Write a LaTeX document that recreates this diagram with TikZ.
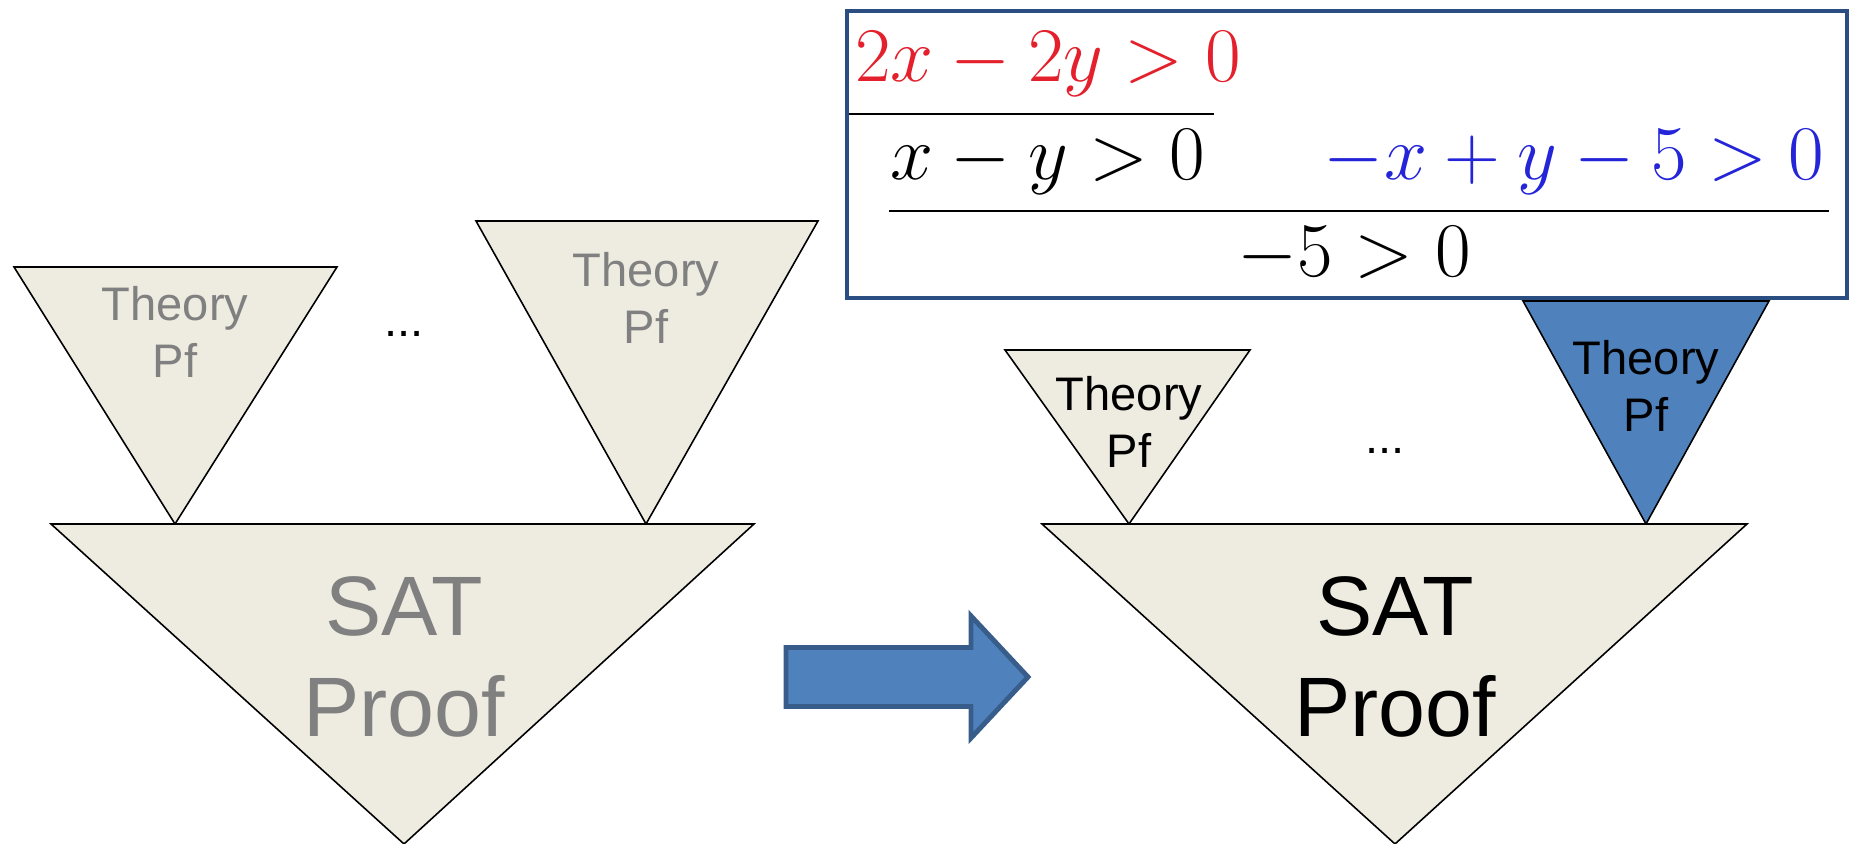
\RequirePackage{fix-cm}
\documentclass[tikz,border=0pt]{standalone}
\usepackage{fontspec}
\newfontfamily\slidefont{Liberation Sans}
\usetikzlibrary{calc}
\usepackage{xcolor}
\definecolor{paper}{HTML}{EEECE1}
\definecolor{thblue}{HTML}{4F81BD}
\definecolor{thedge}{HTML}{385D8A}
\definecolor{boxedge}{HTML}{2A4E82}
\definecolor{greytxt}{HTML}{808080}
\definecolor{eqred}{HTML}{E3202B}
\definecolor{eqblue}{HTML}{2424D8}

\begin{document}
\begin{tikzpicture}[
    tri/.style={draw, line width=0.45pt, fill=paper},
    thylbl/.style={font=\slidefont\fontsize{13.4}{16}\selectfont, align=center, inner sep=0pt},
    satlbl/.style={font=\slidefont\fontsize{24}{29}\selectfont, align=center, inner sep=0pt},
    eqn/.style={font=\fontsize{22}{26}\selectfont, anchor=base, inner sep=0pt},
    infline/.style={line width=0.6pt},
    bigarrow/.style={draw=thedge, line width=1.4pt, fill=thblue},
    eqbox/.style={draw=boxedge, line width=1.2pt, fill=white}
]

\useasboundingbox (0, 0) rectangle (18.53, 8.44);

\draw[tri] (0.14, 5.77) -- (3.37, 5.77) -- (1.75, 3.20) -- cycle;
\draw[tri] (4.76, 6.23) -- (8.18, 6.23) -- (6.46, 3.20) -- cycle;
\draw[tri] (0.51, 3.20) -- (7.54, 3.20) -- (4.04, 0) -- cycle;

\node[thylbl, text=greytxt] (thyL1) at (1.75, 5.12) {Theory\\Pf};
\node[thylbl, text=greytxt] (thyL2) at (6.46, 5.46) {Theory\\Pf};
\node[thylbl] (dotsL) at (4.04, 5.10) {...};
\node[satlbl, text=greytxt] (satL) at (4.04, 1.87) {SAT\\Proof};

\draw[bigarrow] (7.86, 1.375) -- (9.71, 1.375) -- (9.71, 1.06) -- (10.28, 1.67)
    -- (9.71, 2.28) -- (9.71, 1.965) -- (7.86, 1.965) -- cycle;

\draw[tri] (10.05, 4.94) -- (12.50, 4.94) -- (11.29, 3.20) -- cycle;
\draw[tri, fill=thblue] (15.23, 5.43) -- (17.69, 5.43) -- (16.46, 3.20) -- cycle;
\draw[tri] (10.42, 3.20) -- (17.47, 3.20) -- (13.95, 0) -- cycle;

\node[thylbl] (thyR1) at (11.29, 4.22) {Theory\\Pf};
\node[thylbl] (thyR2) at (16.46, 4.58) {Theory\\Pf};
\node[thylbl] (dotsR) at (13.85, 3.93) {...};
\node[satlbl] (satR) at (13.95, 1.87) {SAT\\Proof};

\draw[eqbox] (8.47, 5.46) rectangle (18.47, 8.33);
\node[eqn, text=eqred] (prem) at (10.48, 7.62) {$2x-2y>0$};
\draw[infline] (8.49, 7.30) -- (12.14, 7.30);
\node[eqn] (lhs) at (10.48, 6.64) {$x-y>0$};
\node[eqn, text=eqblue] (rhs) at (15.74, 6.64) {$-x+y-5>0$};
\draw[infline] (8.89, 6.33) -- (18.29, 6.33);
\node[eqn] (concl) at (13.54, 5.67) {$-5>0$};
\end{tikzpicture}
\end{document}
